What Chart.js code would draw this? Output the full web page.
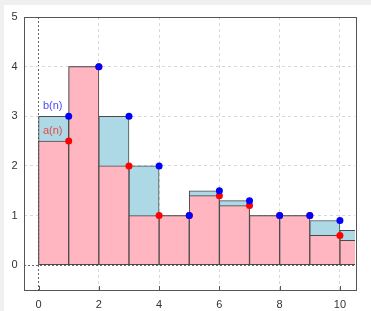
<!DOCTYPE html>
<html>
<head>
<meta charset="utf-8">
<script src="https://cdn.jsdelivr.net/npm/chart.js@4/dist/chart.umd.min.js"></script>
<style>
  html, body { margin: 0; padding: 0; background: #f0f0f0; }
  #wrap { position: absolute; left: 0; top: 0; width: 371px; height: 311px; }
</style>
</head>
<body>
<div id="wrap"><canvas id="c" width="371" height="311"></canvas></div>
<script>
// ---- data ----
const nValues = [1, 2, 3, 4, 5, 6, 7, 8, 9, 10, 11];
const bValues = [3, 4, 3, 2, 1, 1.5, 1.3, 1, 1, 0.9, 0.7];
const aValues = [2.5, 4, 2, 1, 1, 1.4, 1.2, 1, 1, 0.6, 0.5];
const xTickValues = [0, 2, 4, 6, 8, 10];
const yTickValues = [0, 1, 2, 3, 4, 5];
const seriesLabels = ['b(n)', 'a(n)'];
const labelPositions = [{ x: 0.47, y: 3.2 }, { x: 0.47, y: 2.7 }];

const X_MIN = -0.5, X_MAX = 10.5, Y_MIN = -0.5, Y_MAX = 5;

// bars span [n-1, n]
const barB = nValues.map((n, i) => ({ x: n - 0.5, y: bValues[i] }));
const barA = nValues.map((n, i) => ({ x: n - 0.5, y: aValues[i] }));
const ptB = nValues.map((n, i) => ({ x: n, y: bValues[i] })).filter(p => p.x <= X_MAX);
const ptA = nValues.map((n, i) => ({ x: n, y: aValues[i] })).filter(p => p.x <= X_MAX);

const FONT = { family: 'Liberation Sans, Arial, sans-serif', size: 11 };

const panelPlugin = {
  id: 'panel',
  beforeDraw(chart) {
    const ctx = chart.ctx;
    ctx.save();
    ctx.fillStyle = '#f0f0f0';
    ctx.fillRect(0, 0, chart.width, chart.height);
    ctx.fillStyle = '#ffffff';
    ctx.fillRect(4, 5, chart.width - 4, chart.height - 5);
    ctx.restore();
  },
  afterDraw(chart) {
    const ctx = chart.ctx;
    const a = chart.chartArea;
    const xs = chart.scales.x, ys = chart.scales.y;
    ctx.save();
    // frame
    ctx.strokeStyle = '#555555';
    ctx.lineWidth = 1;
    ctx.strokeRect(Math.round(a.left) + 0.5, Math.round(a.top) + 0.5,
                   Math.round(a.right - a.left), Math.round(a.bottom - a.top));
    // small inner ticks at bottom
    xs.ticks.forEach(t => {
      const px = Math.round(xs.getPixelForValue(t.value)) + 0.5;
      ctx.beginPath();
      ctx.moveTo(px, a.bottom);
      ctx.lineTo(px, a.bottom - 4);
      ctx.stroke();
    });
    // series labels
    ctx.font = '11px ' + FONT.family;
    ctx.textAlign = 'center';
    ctx.textBaseline = 'middle';
    const colors = ['#4a4aff', '#e84a4a'];
    seriesLabels.forEach((s, i) => {
      ctx.fillStyle = colors[i];
      ctx.fillText(s, xs.getPixelForValue(labelPositions[i].x), ys.getPixelForValue(labelPositions[i].y));
    });
    ctx.restore();
  }
};

new Chart(document.getElementById('c'), {
  type: 'bar',
  data: {
    datasets: [
      { type: 'scatter', label: 'b pts', data: ptB, order: 1,
        pointRadius: 3.5, pointHoverRadius: 3.5, pointBorderWidth: 0,
        backgroundColor: '#0000ff', borderColor: '#0000ff', showLine: false },
      { type: 'scatter', label: 'a pts', data: ptA, order: 2,
        pointRadius: 3.5, pointHoverRadius: 3.5, pointBorderWidth: 0,
        backgroundColor: '#ff0000', borderColor: '#ff0000', showLine: false },
      { label: 'a(n)', data: barA, order: 3, grouped: false,
        backgroundColor: '#ffb6c1', borderColor: '#4a4a4a', borderWidth: 1, borderSkipped: false,
        barPercentage: 1, categoryPercentage: 1 },
      { label: 'b(n)', data: barB, order: 4, grouped: false,
        backgroundColor: '#add8e6', borderColor: '#4a4a4a', borderWidth: 1, borderSkipped: false,
        barPercentage: 1, categoryPercentage: 1 }
    ]
  },
  options: {
    responsive: false,
    animation: false,
    events: [],
    layout: { padding: { top: 17, right: 16, left: 0, bottom: 0 } },
    plugins: { legend: { display: false }, tooltip: { enabled: false } },
    scales: {
      x: {
        type: 'linear', min: X_MIN, max: X_MAX, offset: false,
        afterBuildTicks: s => { s.ticks = xTickValues.map(v => ({ value: v })); },
        afterFit: s => { s.height = 21; },
        grid: {
          drawTicks: false, offset: false,
          color: c => (c.tick && c.tick.value === 0) ? '#666666' : '#d8d8d8',
          lineWidth: 1
        },
        border: { display: false, dash: c => (c.tick && c.tick.value === 0) ? [2, 2] : [3, 3] },
        ticks: { font: FONT, color: '#333333', padding: 8, maxRotation: 0 }
      },
      y: {
        type: 'linear', min: Y_MIN, max: Y_MAX,
        afterBuildTicks: s => { s.ticks = yTickValues.map(v => ({ value: v })); },
        afterFit: s => { s.width = 23.5; },
        grid: {
          drawTicks: false,
          color: c => (c.tick && c.tick.value === 0) ? '#666666' : '#d8d8d8',
          lineWidth: 1
        },
        border: { display: false, dash: c => (c.tick && c.tick.value === 0) ? [2, 2] : [3, 3] },
        ticks: { font: FONT, color: '#333333', padding: 6 }
      }
    }
  },
  plugins: [panelPlugin]
});
</script>
</body>
</html>
